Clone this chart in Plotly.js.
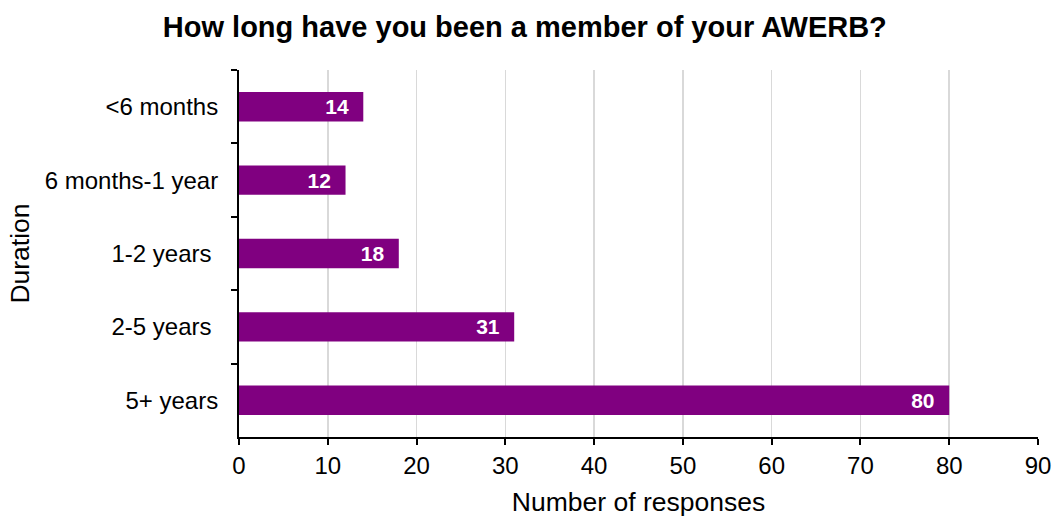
<!DOCTYPE html>
<html><head><meta charset="utf-8">
<script src="https://cdn.plot.ly/plotly-3.0.1.min.js"></script>
<style>html,body{margin:0;padding:0;background:#fff}</style>
</head><body><div id="chart" style="width:1056px;height:519px"></div>
<script>
const categories = ["<6 months", "6 months-1 year", "1-2 years\u00a0", "2-5 years\u00a0", "5+ years"];
const responses = [14, 12, 18, 31, 80];
const xTicks = [0, 10, 20, 30, 40, 50, 60, 70, 80, 90];

const font = "Liberation Sans, Arial, sans-serif";
Plotly.newPlot("chart", [{
  type: "bar", orientation: "h",
  y: categories, x: responses,
  marker: {color: "#800080"},
  text: responses.map(v => v + "\u00a0\u00a0"), textposition: "inside", insidetextanchor: "end",
  textfont: {family: font, size: 21, color: "#ffffff", weight: "bold"},
  hoverinfo: "none", cliponaxis: false
}], {
  width: 1056, height: 519,
  margin: {l: 239, r: 18, t: 70, b: 82},
  paper_bgcolor: "#fff", plot_bgcolor: "#fff",
  bargap: 0.6,
  title: {text: "<b>How long have you been a member of your AWERB?</b>", x: 0.497, xanchor: "center", y: 0.948, yanchor: "middle",
    font: {family: font, size: 29, color: "#000"}},
  xaxis: {range: [0, 90], tickvals: xTicks, ticktext: xTicks.map(String),
    showgrid: true, gridcolor: "#d9d9d9", gridwidth: 1.5, zeroline: false,
    showline: true, linecolor: "#000", linewidth: 2, ticks: "outside", ticklen: 6, tickwidth: 2, tickcolor: "#000",
    tickfont: {family: font, size: 24, color: "#000"},
    title: {text: "Number of responses", font: {family: font, size: 26.5, color: "#000"}, standoff: 15}},
  yaxis: {autorange: "reversed", categoryorder: "array", categoryarray: categories,
    showline: true, linecolor: "#000", linewidth: 2, ticks: "outside", ticklen: 6, tickwidth: 2, tickcolor: "#000",
    tickson: "boundaries", showgrid: false, zeroline: false, ticklabelstandoff: 14,
    tickfont: {family: font, size: 24, color: "#000"},
    title: {text: "Duration", font: {family: font, size: 26.5, color: "#000"}, standoff: 8}},
  showlegend: false
}, {displayModeBar: false, staticPlot: true});
</script></body></html>
